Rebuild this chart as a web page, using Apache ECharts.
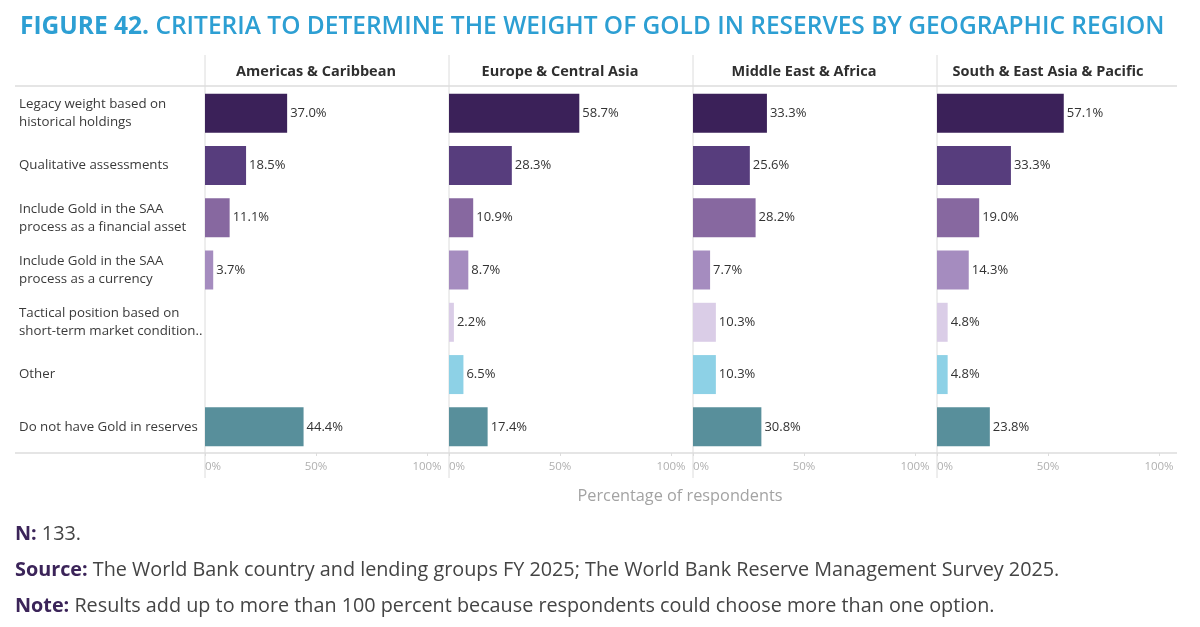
<!DOCTYPE html>
<html style="height: 100%" lang="en">
<head>
    <meta charset="utf-8">
    <script type="text/javascript" src="https://cdn.jsdelivr.net/npm/echarts@6/dist/echarts.min.js"></script>
    <title>Figure 42</title>
</head>
<body style="height: 100%; margin: 0; background: #fff">
<div id="container" style="width: 1200px; height: 627px"></div>
</body>
<script type="text/javascript">
    // chart data
    let regions = ['Americas & Caribbean', 'Europe & Central Asia', 'Middle East & Africa', 'South & East Asia & Pacific'];
    let criteria = [
        'Legacy weight based on\nhistorical holdings',
        'Qualitative assessments',
        'Include Gold in the SAA\nprocess as a financial asset',
        'Include Gold in the SAA\nprocess as a currency',
        'Tactical position based on\nshort-term market condition..',
        'Other',
        'Do not have Gold in reserves'
    ];
    let americas = [37.0, 18.5, 11.1, 3.7, null, null, 44.4];
    let europe = [58.7, 28.3, 10.9, 8.7, 2.2, 6.5, 17.4];
    let middleEast = [33.3, 25.6, 28.2, 7.7, 10.3, 10.3, 30.8];
    let southAsia = [57.1, 33.3, 19.0, 14.3, 4.8, 4.8, 23.8];
    let rowColors = ['#3b2159', '#573d7d', '#8768a0', '#a58cbf', '#dacde7', '#8dd1e6', '#588f9b'];
    let axisTicks = [0, 50, 100];

    let values = [americas, europe, middleEast, southAsia];
    let panelLeft = [205, 449, 693, 937];
    let panelWidth = 222;
    let gridTop = 87;
    let gridBottom = 453;
    let lineColor = '#dcdcdc';
    let font = '"Open Sans", "Noto Sans", sans-serif';

    let dom = document.getElementById('container');
    let myChart = echarts.init(dom, null, {renderer: 'canvas'});

    let grids = [], xAxes = [], yAxes = [], series = [], graphics = [];
    values.forEach(function (vals, i) {
        grids.push({left: panelLeft[i], width: panelWidth, top: gridTop, height: gridBottom - gridTop});
        xAxes.push({
            type: 'value', gridIndex: i, min: 0, max: 100, interval: 50,
            axisLine: {show: false},
            axisTick: {show: true, length: 3, lineStyle: {color: lineColor}},
            splitLine: {show: false},
            axisLabel: {
                color: '#b0b0b0', fontSize: 11.5, fontFamily: font, margin: 8,
                alignMinLabel: 'left', alignMaxLabel: 'center',
                formatter: function (v) { return axisTicks.indexOf(v) >= 0 ? v + '%' : ''; }
            }
        });
        yAxes.push({
            type: 'category', gridIndex: i, data: criteria, inverse: true,
            axisLine: {show: false}, axisTick: {show: false},
            axisLabel: i === 0 ? {
                show: true, align: 'left', margin: 186, color: '#3a3a3a',
                fontSize: 13.3, lineHeight: 18, fontFamily: font
            } : {show: false}
        });
        series.push({
            type: 'bar', xAxisIndex: i, yAxisIndex: i,
            barWidth: 39,
            data: vals.map(function (v, k) {
                return {value: v, itemStyle: {color: rowColors[k]}};
            }),
            label: {
                show: true, position: 'right', distance: 3,
                color: '#333', fontSize: 13, fontFamily: font,
                formatter: function (p) { return p.value == null ? '' : p.value.toFixed(1) + '%'; }
            },
            animation: false
        });
        graphics.push({
            type: 'line', silent: true,
            shape: {x1: panelLeft[i], y1: 55, x2: panelLeft[i], y2: 478},
            style: {stroke: lineColor, lineWidth: 1}
        });
        graphics.push({
            type: 'text', silent: true,
            x: panelLeft[i] + panelWidth / 2, y: 72,
            style: {
                text: regions[i], fill: '#2f2f2f', fontSize: 14.5, fontWeight: 'bold',
                fontFamily: font, align: 'center', verticalAlign: 'middle'
            }
        });
    });

    let footStyle = function (text, y) {
        return {
            type: 'text', silent: true, x: 15, y: y,
            style: {
                text: text, verticalAlign: 'middle', fill: '#444', fontSize: 19.8, fontFamily: font,
                rich: {b: {fontWeight: 'bold', fill: '#3b2459', fontSize: 19.8, fontFamily: font}}
            }
        };
    };

    graphics.push(
        {type: 'line', silent: true, shape: {x1: 15, y1: 86, x2: 1177, y2: 86}, style: {stroke: lineColor, lineWidth: 1.5}},
        {type: 'line', silent: true, shape: {x1: 15, y1: 453, x2: 1177, y2: 453}, style: {stroke: lineColor, lineWidth: 1.5}},
        {
            type: 'text', silent: true, x: 680, y: 496,
            style: {text: 'Percentage of respondents', fill: '#a3a3a3', fontSize: 16.3, fontFamily: font, align: 'center', verticalAlign: 'middle'}
        },
        footStyle('{b|N:} 133.', 534),
        footStyle('{b|Source:} The World Bank country and lending groups FY 2025; The World Bank Reserve Management Survey 2025.', 570),
        footStyle('{b|Note:} Results add up to more than 100 percent because respondents could choose more than one option.', 606)
    );

    let option = {
        backgroundColor: '#fff',
        title: {
            left: 15, top: 10,
            text: '{b|FIGURE 42.} CRITERIA TO DETERMINE THE WEIGHT OF GOLD IN RESERVES BY GEOGRAPHIC REGION',
            textStyle: {
                color: '#2d9fd3', fontSize: 24.5, fontWeight: 600, fontFamily: font,
                rich: {b: {color: '#2d9fd3', fontSize: 24.5, fontWeight: 'bold', fontFamily: font}}
            }
        },
        grid: grids,
        xAxis: xAxes,
        yAxis: yAxes,
        series: series,
        graphic: graphics,
        animation: false
    };
    myChart.setOption(option);
</script>
</html>
